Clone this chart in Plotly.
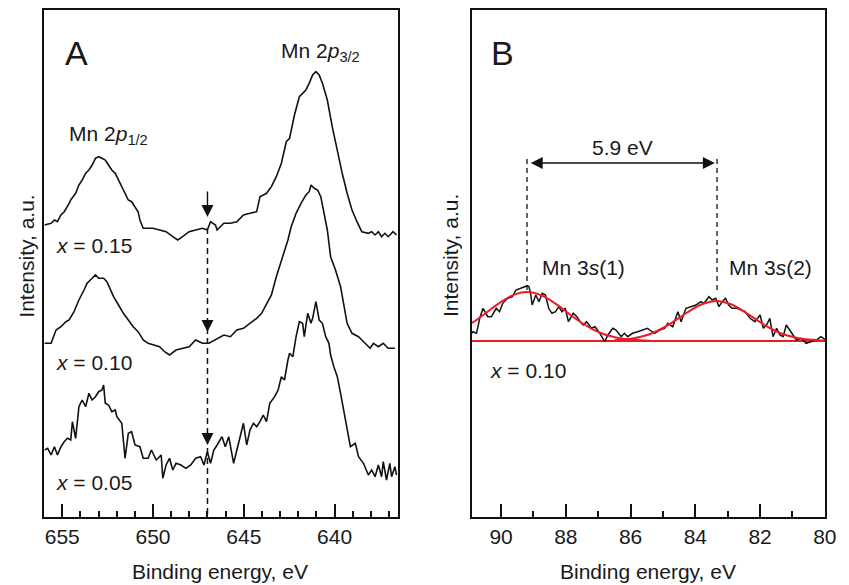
import plotly.graph_objects as go

# ---------------- Panel A data (binding energy eV, intensity a.u.) ----------------
a_x015 = [655.98, 655.61, 655.43, 655.26, 655.07, 654.89, 654.62, 654.53, 654.26, 654.08,
          653.90, 653.71, 653.53, 653.35, 653.17, 652.99, 652.81, 652.63, 652.45, 652.27,
          652.08, 651.90, 651.72, 651.54, 651.36, 651.18, 650.99, 650.82, 650.72, 650.54,
          650.36, 650.00, 649.64, 649.28, 648.91, 648.64, 648.37, 648.01, 647.65, 647.28,
          647.01, 646.83, 646.56, 646.47, 646.10, 645.74, 645.38, 645.02, 644.66, 644.29,
          644.11, 643.75, 643.48, 643.21, 642.93, 642.66, 642.48, 642.21, 641.94, 641.76,
          641.58, 641.40, 641.21, 641.03, 640.85, 640.67, 640.40, 640.13, 639.85, 639.58,
          639.31, 639.04, 638.77, 638.50, 638.14, 637.96, 637.77, 637.59, 637.41, 637.23,
          637.05, 636.78, 636.59]
a_y015 = [292.0, 293.7, 297.0, 295.3, 302.0, 305.3, 313.7, 317.0, 323.7, 332.0,
          337.0, 343.7, 347.0, 352.0, 358.7, 360.3, 358.7, 357.0, 352.0, 347.0,
          343.7, 337.0, 330.3, 322.0, 317.0, 315.3, 310.3, 305.3, 297.0, 288.7,
          288.7, 288.7, 287.0, 285.3, 280.3, 277.0, 280.3, 285.3, 287.0, 288.7,
          287.0, 295.3, 292.0, 287.0, 293.7, 293.7, 295.3, 302.0, 303.7, 305.3,
          320.3, 323.7, 330.3, 340.3, 353.7, 375.3, 378.7, 402.0, 420.3, 423.7,
          427.0, 433.7, 442.0, 445.3, 442.0, 433.7, 417.0, 390.3, 365.3, 343.7,
          323.7, 307.0, 295.3, 285.3, 283.7, 285.3, 282.0, 285.3, 280.3, 283.7,
          280.3, 285.3, 282.0]

a_x010 = [655.98, 655.61, 655.34, 655.07, 654.80, 654.62, 654.35, 654.08, 653.80, 653.63,
          653.35, 653.17, 652.99, 652.72, 652.54, 652.35, 652.17, 651.90, 651.63, 651.36,
          651.09, 650.82, 650.54, 650.27, 650.00, 649.64, 649.36, 649.09, 648.73, 648.37,
          648.01, 647.65, 647.28, 646.92, 646.56, 646.10, 645.74, 645.38, 645.02, 644.66,
          644.29, 644.02, 643.75, 643.48, 643.21, 642.84, 642.57, 642.39, 642.12, 641.85,
          641.58, 641.40, 641.30, 641.12, 640.94, 640.76, 640.58, 640.40, 640.22, 639.95,
          639.67, 639.49, 639.31, 639.04, 638.68, 638.32, 638.04, 637.86, 637.59, 637.32,
          637.05, 636.68]
a_y010 = [173.7, 173.7, 187.0, 190.3, 195.3, 197.0, 205.3, 217.0, 227.0, 233.7,
          238.7, 242.0, 238.7, 238.7, 235.3, 227.0, 220.3, 212.0, 203.7, 197.0,
          190.3, 185.3, 177.0, 173.7, 172.0, 170.3, 165.3, 162.0, 167.0, 168.7,
          170.3, 177.0, 173.7, 173.7, 177.0, 182.0, 180.3, 187.0, 188.7, 193.7,
          198.7, 203.7, 213.7, 222.0, 240.3, 260.3, 277.0, 290.3, 303.7, 313.7,
          322.0, 325.3, 332.0, 328.7, 327.0, 320.3, 303.7, 287.0, 260.3, 247.0,
          230.3, 213.7, 193.7, 183.7, 180.3, 173.7, 168.7, 173.7, 170.3, 173.7,
          168.7, 168.7]

a_x005 = [655.98, 655.80, 655.61, 655.43, 655.26, 655.07, 654.89, 654.71, 654.53, 654.44,
          654.26, 654.08, 653.90, 653.71, 653.53, 653.35, 653.17, 652.99, 652.81, 652.72,
          652.63, 652.45, 652.27, 652.08, 651.99, 651.72, 651.54, 651.36, 651.18, 650.99,
          650.72, 650.54, 650.27, 650.09, 649.82, 649.55, 649.46, 649.28, 649.09, 648.91,
          648.73, 648.46, 648.19, 647.92, 647.65, 647.38, 647.19, 647.01, 646.83, 646.65,
          646.47, 646.20, 646.02, 645.83, 645.56, 645.38, 645.20, 645.02, 644.84, 644.66,
          644.47, 644.29, 644.11, 643.93, 643.75, 643.57, 643.30, 643.11, 642.93, 642.76,
          642.57, 642.48, 642.30, 642.12, 641.94, 641.76, 641.67, 641.48, 641.30, 641.21,
          641.03, 640.85, 640.67, 640.49, 640.31, 640.22, 640.04, 639.85, 639.67, 639.49,
          639.31, 639.13, 638.86, 638.68, 638.41, 638.14, 637.96, 637.77, 637.59, 637.41,
          637.32, 637.14, 636.96, 636.86, 636.68, 636.59]
a_y005 = [67.0, 68.7, 62.0, 70.3, 62.0, 70.3, 75.3, 78.7, 77.0, 95.3,
          78.7, 110.3, 117.0, 110.3, 123.7, 117.0, 120.3, 125.3, 127.0, 132.0,
          113.7, 112.0, 105.3, 107.0, 100.3, 93.7, 58.7, 83.7, 85.3, 72.0,
          70.3, 58.7, 58.7, 67.0, 57.0, 62.0, 38.7, 52.0, 58.7, 47.0,
          53.7, 52.0, 48.7, 52.0, 58.7, 60.3, 52.0, 65.3, 53.7, 67.0,
          72.0, 80.3, 70.3, 80.3, 53.7, 67.0, 78.7, 93.7, 72.0, 87.0,
          93.7, 90.3, 95.3, 102.0, 95.3, 113.7, 120.3, 127.0, 140.3, 137.0,
          157.0, 163.7, 160.3, 180.3, 195.3, 193.7, 180.3, 203.7, 193.7, 198.7,
          215.3, 197.0, 193.7, 180.3, 173.7, 162.0, 150.3, 140.3, 123.7, 107.0,
          90.3, 70.3, 73.7, 60.3, 53.7, 42.0, 47.0, 40.3, 52.0, 40.3,
          55.3, 37.0, 53.7, 40.3, 50.3, 42.0]

# ---------------- Panel B data ----------------
b_x = [90.91, 90.87, 90.76, 90.66, 90.56, 90.41, 90.30, 90.15, 90.05, 89.95,
       89.80, 89.65, 89.54, 89.39, 89.29, 89.19, 89.14, 89.09, 89.04, 88.93,
       88.83, 88.73, 88.63, 88.53, 88.43, 88.32, 88.22, 88.12, 88.02, 87.92,
       87.77, 87.66, 87.56, 87.46, 87.36, 87.21, 87.10, 86.95, 86.80, 86.70,
       86.55, 86.45, 86.29, 86.19, 86.09, 85.94, 85.78, 85.63, 85.48, 85.41,
       85.26, 85.10, 84.95, 84.85, 84.70, 84.54, 84.44, 84.29, 84.13, 83.98,
       83.83, 83.73, 83.58, 83.48, 83.37, 83.27, 83.17, 83.07, 82.97, 82.87,
       82.71, 82.56, 82.46, 82.31, 82.16, 82.00, 81.90, 81.80, 81.70, 81.60,
       81.49, 81.39, 81.29, 81.19, 81.04, 80.88, 80.73, 80.58, 80.43, 80.27,
       80.12, 79.97]
b_y = [183.7, 185.3, 183.7, 198.7, 208.7, 200.3, 200.3, 208.7, 205.3, 213.7,
       218.7, 220.3, 227.0, 228.7, 230.3, 231.3, 230.3, 223.7, 212.0, 222.0,
       215.3, 223.7, 222.0, 208.7, 203.7, 205.3, 210.3, 205.3, 208.7, 195.3,
       203.7, 200.3, 195.3, 192.0, 195.3, 188.7, 190.3, 183.7, 175.3, 182.0,
       188.7, 187.0, 180.3, 183.7, 180.3, 183.7, 185.3, 187.0, 188.7, 187.0,
       183.7, 187.0, 188.7, 193.7, 190.3, 205.3, 195.3, 208.7, 210.3, 212.0,
       215.3, 213.7, 220.3, 217.0, 218.7, 210.3, 215.3, 218.7, 212.0, 208.7,
       208.7, 207.0, 205.3, 198.7, 195.3, 202.0, 188.7, 192.0, 198.7, 180.3,
       188.7, 182.0, 180.3, 192.0, 185.3, 177.0, 178.7, 173.7, 175.3, 177.0,
       180.3, 177.0]

b_base_x = [90.91, 79.97]
b_base_y = [176.0, 176.0]

fit1_x = [90.9, 90.6, 90.3, 90.0, 89.7, 89.4, 89.2, 89.0, 88.7, 88.4,
          88.1, 87.8, 87.5, 87.2, 86.9, 86.6, 86.3, 86.0, 85.7, 85.4]
fit1_y = [194.0, 200.8, 208.2, 215.2, 220.9, 224.3, 225.0, 224.3, 220.9, 215.2,
          208.2, 200.8, 194.0, 188.2, 183.8, 180.7, 178.6, 177.4, 176.7, 176.3]

fit2_x = [86.5, 86.2, 85.9, 85.6, 85.3, 85.0, 84.7, 84.4, 84.1, 83.8,
          83.5, 83.35, 83.2, 82.9, 82.6, 82.3, 82.0, 81.7, 81.4, 81.1,
          80.8, 80.5, 80.2, 80.0]
fit2_y = [176.7, 177.4, 178.7, 181.0, 184.3, 189.0, 194.8, 201.4, 207.7, 212.8,
          215.6, 216.0, 215.6, 212.8, 207.7, 201.4, 194.8, 189.0, 184.3, 181.0,
          178.7, 177.4, 176.7, 176.4]

FONT = "Liberation Sans, Arial, sans-serif"
BLACK = "#111111"
RED = "rgb(236,28,36)"
FS = 21

fig = go.Figure()

for xs, ys in [(a_x015, a_y015), (a_x010, a_y010), (a_x005, a_y005)]:
    fig.add_trace(go.Scatter(x=xs, y=ys, mode="lines", xaxis="x", yaxis="y",
                             line=dict(color=BLACK, width=1.6), showlegend=False,
                             hoverinfo="skip"))

fig.add_trace(go.Scatter(x=b_base_x, y=b_base_y, mode="lines", xaxis="x2", yaxis="y2",
                         line=dict(color=RED, width=2), showlegend=False, hoverinfo="skip"))
fig.add_trace(go.Scatter(x=b_x, y=b_y, mode="lines", xaxis="x2", yaxis="y2",
                         line=dict(color=BLACK, width=1.5), showlegend=False, hoverinfo="skip"))
for xs, ys in [(fit1_x, fit1_y), (fit2_x, fit2_y)]:
    fig.add_trace(go.Scatter(x=xs, y=ys, mode="lines", xaxis="x2", yaxis="y2",
                             line=dict(color=RED, width=2, shape="spline"),
                             showlegend=False, hoverinfo="skip"))

ydom = [1 - 517 / 585, 1 - 10 / 585]
axis_common = dict(showline=True, linecolor=BLACK, linewidth=1.7, mirror=True,
                   showgrid=False, zeroline=False)
fig.update_layout(
    width=849, height=585,
    margin=dict(l=0, r=0, t=0, b=0),
    paper_bgcolor="white", plot_bgcolor="white",
    font=dict(family=FONT, color="#1a1a1a", size=FS),
    xaxis=dict(domain=[45 / 849, 403 / 849], range=[655.98, 636.52], dtick=5, tick0=0,
               ticks="inside", ticklen=13, tickwidth=1.5, tickcolor=BLACK,
               minor=dict(dtick=1, ticks="inside", ticklen=6, tickwidth=1.5, tickcolor=BLACK),
               tickfont=dict(size=FS), anchor="y", **axis_common),
    yaxis=dict(domain=ydom, range=[0, 507], showticklabels=False, ticks="",
               anchor="x", **axis_common),
    xaxis2=dict(domain=[478 / 849, 836 / 849], range=[90.905, 79.99], dtick=2, tick0=0,
                ticks="inside", ticklen=13, tickwidth=1.5, tickcolor=BLACK,
                minor=dict(dtick=1, ticks="inside", ticklen=6, tickwidth=1.5, tickcolor=BLACK),
                tickfont=dict(size=FS), anchor="y2", **axis_common),
    yaxis2=dict(domain=ydom, range=[0, 507], showticklabels=False, ticks="",
                anchor="x2", **axis_common),
)

# dashed guide lines
fig.add_shape(type="line", xref="x", yref="y", x0=647, x1=647, y0=289, y1=0,
              line=dict(color=BLACK, width=1.5, dash="6px,4px"))
fig.add_shape(type="line", xref="x2", yref="y2", x0=89.2, x1=89.2, y0=358, y1=227,
              line=dict(color=BLACK, width=1.3, dash="5px,4px"))
fig.add_shape(type="line", xref="x2", yref="y2", x0=83.33, x1=83.33, y0=358, y1=227,
              line=dict(color=BLACK, width=1.3, dash="5px,4px"))

ann = []
def txt(x, y, text, size=FS, xanchor="left", xref="x", yref="y", **kw):
    ann.append(dict(x=x, y=y, xref=xref, yref=yref, text=text, showarrow=False,
                    xanchor=xanchor, yanchor="middle", font=dict(size=size, family=FONT,
                                                                 color="#1a1a1a"), **kw))

# arrows in panel A
ann.append(dict(x=647, y=300, ax=647, ay=327, xref="x", yref="y", axref="x", ayref="y",
                showarrow=True, arrowhead=2, arrowsize=1.7, arrowwidth=1.4, arrowcolor=BLACK, text=""))
for ytip in [185, 72]:
    ann.append(dict(x=647, y=ytip, ax=647, ay=ytip + 14, xref="x", yref="y", axref="x", ayref="y",
                    showarrow=True, arrowhead=2, arrowsize=1.7, arrowwidth=1.4, arrowcolor=BLACK, text=""))
# double arrow in panel B
ann.append(dict(x=83.40, y=354, ax=89.13, ay=354, xref="x2", yref="y2", axref="x2", ayref="y2",
                showarrow=True, arrowhead=2, startarrowhead=2, arrowside="end+start",
                arrowsize=1.7, startarrowsize=1.7, arrowwidth=1.4, arrowcolor=BLACK, text=""))

txt(654.24, 464, "A", size=34, xanchor="center")
txt(643.04, 465, "Mn 2<i>p</i><sub>3/2</sub>")
txt(654.73, 382, "Mn 2<i>p</i><sub>1/2</sub>")
txt(655.43, 272, "<i>x</i> = 0.15")
txt(655.43, 155, "<i>x</i> = 0.10")
txt(655.43, 35, "<i>x</i> = 0.05")

txt(89.96, 464, "B", size=34, xanchor="center", xref="x2", yref="y2")
txt(86.24, 370, "5.9 eV", xanchor="center", xref="x2", yref="y2")
txt(88.80, 250, "Mn 3<i>s</i>(1)", xref="x2", yref="y2")
txt(83.01, 250, "Mn 3<i>s</i>(2)", xref="x2", yref="y2")
txt(90.39, 147, "<i>x</i> = 0.10", xref="x2", yref="y2")

# axis titles
txt(223 / 849, 1 - 571 / 585, "Binding energy, eV", xanchor="center", xref="paper", yref="paper")
txt(657 / 849, 1 - 571 / 585, "Binding energy, eV", xanchor="center", xref="paper", yref="paper")
txt(26 / 849, 1 - 256 / 585, "Intensity, a.u.", xanchor="center", xref="paper", yref="paper",
    textangle=-90)
txt(456 / 849, 1 - 256 / 585, "Intensity, a.u.", xanchor="center", xref="paper", yref="paper",
    textangle=-90)

fig.update_layout(annotations=ann)
fig.write_html("out.html")
